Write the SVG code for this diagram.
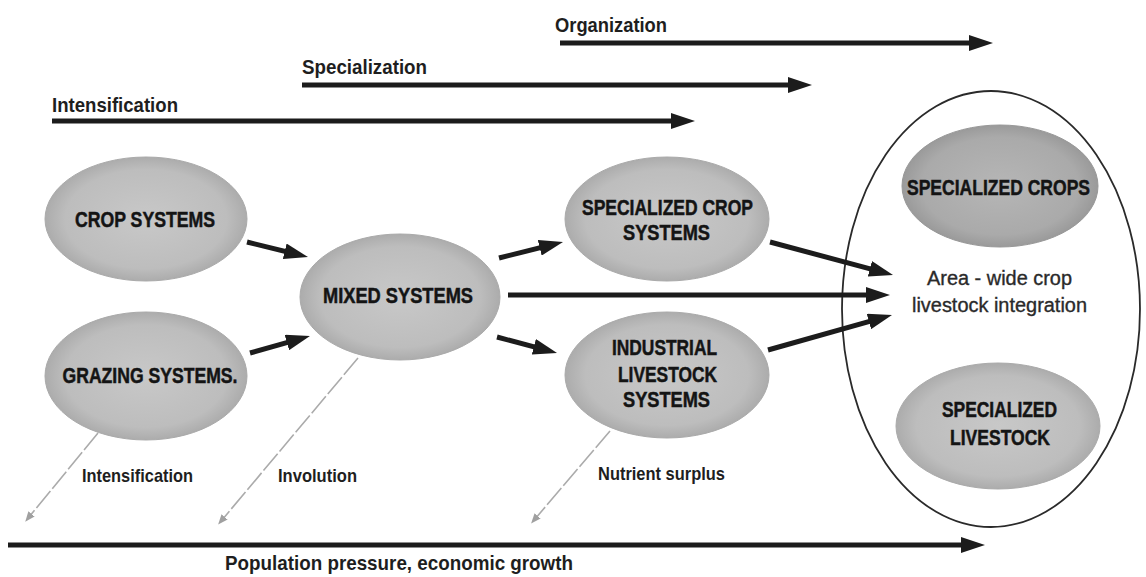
<svg xmlns="http://www.w3.org/2000/svg" width="1146" height="577" viewBox="0 0 1146 577">
  <style>
    .lbl { font-family: "Liberation Sans", Arial, sans-serif; font-weight: bold; fill: #1e1e1e; }
    .node-txt { font-family: "Liberation Sans", Arial, sans-serif; font-weight: bold; font-size: 22px; fill: #141414; stroke: #141414; stroke-width: 0.5; text-anchor: middle; }
    .area-txt { font-family: "Liberation Sans", Arial, sans-serif; font-size: 20px; fill: #2a2a2a; stroke: #2a2a2a; stroke-width: 0.35; text-anchor: middle; }
    .thick { stroke: #1c1c1c; stroke-width: 5; fill: none; marker-end: url(#head); }
    .thin { stroke: #ababab; stroke-width: 1.6; fill: none; stroke-dasharray: 22 3; marker-end: url(#ghead); }
    .blob { fill: url(#gray); stroke: #aaaaaa; stroke-width: 1; }
    .blob-dark { fill: url(#grayDark); stroke: #989898; stroke-width: 1; }
  </style>
  <defs>
    <radialGradient id="gray" cx="50%" cy="50%" r="50%">
      <stop offset="0%" stop-color="#c8c8c8"/>
      <stop offset="80%" stop-color="#bdbdbd"/>
      <stop offset="100%" stop-color="#acacac"/>
    </radialGradient>
    <radialGradient id="grayDark" cx="50%" cy="50%" r="50%">
      <stop offset="0%" stop-color="#b6b6b6"/>
      <stop offset="80%" stop-color="#aaaaaa"/>
      <stop offset="100%" stop-color="#9a9a9a"/>
    </radialGradient>
    <marker id="head" markerUnits="userSpaceOnUse" markerWidth="24" markerHeight="16" viewBox="0 0 24 16" refX="10" refY="8" orient="auto">
      <path d="M0,0 L24,8 L0,16 Z" fill="#1c1c1c"/>
    </marker>
    <marker id="ghead" markerUnits="userSpaceOnUse" markerWidth="10" markerHeight="8" viewBox="0 0 10 8" refX="4" refY="4" orient="auto">
      <path d="M0,0 L10,4 L0,8 Z" fill="#a0a0a0"/>
    </marker>
  </defs>

  <rect width="1146" height="577" fill="#ffffff"/>

  <g id="area-integration">
    <ellipse cx="991" cy="309" rx="149" ry="218" fill="none" stroke="#2a2a2a" stroke-width="1.8"/>
    <text class="area-txt" x="999.5" y="285" textLength="145" lengthAdjust="spacingAndGlyphs">Area - wide crop</text>
    <text class="area-txt" x="999.5" y="312" textLength="175" lengthAdjust="spacingAndGlyphs">livestock integration</text>
  </g>

  <g id="crop-systems">
    <ellipse class="blob" cx="146" cy="219" rx="101" ry="62"/>
    <text class="node-txt" x="145" y="227" textLength="140" lengthAdjust="spacingAndGlyphs">CROP SYSTEMS</text>
  </g>
  <g id="grazing-systems">
    <ellipse class="blob" cx="146" cy="376" rx="101" ry="64"/>
    <text class="node-txt" x="150" y="383" textLength="175" lengthAdjust="spacingAndGlyphs">GRAZING SYSTEMS.</text>
  </g>
  <g id="mixed-systems">
    <ellipse class="blob" cx="400" cy="297" rx="100" ry="63"/>
    <text class="node-txt" x="398" y="303" textLength="150" lengthAdjust="spacingAndGlyphs">MIXED SYSTEMS</text>
  </g>
  <g id="specialized-crop-systems">
    <ellipse class="blob" cx="667" cy="219" rx="102" ry="62"/>
    <text class="node-txt" x="667.5" y="215" textLength="171" lengthAdjust="spacingAndGlyphs">SPECIALIZED CROP</text>
    <text class="node-txt" x="666.5" y="240" textLength="87" lengthAdjust="spacingAndGlyphs">SYSTEMS</text>
  </g>
  <g id="industrial-livestock-systems">
    <ellipse class="blob" cx="667" cy="375" rx="102" ry="63"/>
    <text class="node-txt" x="664.5" y="355" textLength="105" lengthAdjust="spacingAndGlyphs">INDUSTRIAL</text>
    <text class="node-txt" x="667.5" y="382" textLength="99" lengthAdjust="spacingAndGlyphs">LIVESTOCK</text>
    <text class="node-txt" x="666.5" y="407" textLength="87" lengthAdjust="spacingAndGlyphs">SYSTEMS</text>
  </g>
  <g id="specialized-crops">
    <ellipse class="blob-dark" cx="1000" cy="186" rx="98" ry="61"/>
    <text class="node-txt" x="998.5" y="195" textLength="183" lengthAdjust="spacingAndGlyphs">SPECIALIZED CROPS</text>
  </g>
  <g id="specialized-livestock">
    <ellipse class="blob" cx="998" cy="426" rx="102" ry="63"/>
    <text class="node-txt" x="999.5" y="417" textLength="115" lengthAdjust="spacingAndGlyphs">SPECIALIZED</text>
    <text class="node-txt" x="1000" y="445" textLength="100" lengthAdjust="spacingAndGlyphs">LIVESTOCK</text>
  </g>

  <g id="trend-labels">
    <text class="lbl" font-size="21" x="555" y="32" textLength="112" lengthAdjust="spacingAndGlyphs">Organization</text>
    <text class="lbl" font-size="21" x="302" y="74" textLength="125" lengthAdjust="spacingAndGlyphs">Specialization</text>
    <text class="lbl" font-size="21" x="52" y="112" textLength="126" lengthAdjust="spacingAndGlyphs">Intensification</text>
    <text class="lbl" font-size="19" x="82" y="482" textLength="111" lengthAdjust="spacingAndGlyphs">Intensification</text>
    <text class="lbl" font-size="19" x="278" y="482" textLength="79" lengthAdjust="spacingAndGlyphs">Involution</text>
    <text class="lbl" font-size="19" x="598" y="480" textLength="127" lengthAdjust="spacingAndGlyphs">Nutrient surplus</text>
    <text class="lbl" font-size="21" x="225" y="570" textLength="348" lengthAdjust="spacingAndGlyphs">Population pressure, economic growth</text>
  </g>

  <g id="connectors">
    <line class="thick" x1="560" y1="43" x2="979" y2="43"/>
    <line class="thick" x1="302" y1="85" x2="798" y2="85"/>
    <line class="thick" x1="52" y1="121" x2="681" y2="121"/>
    <line class="thick" x1="8" y1="545" x2="971" y2="545"/>

    <line class="thick" x1="247" y1="242" x2="294.4" y2="253.7"/>
    <line class="thick" x1="250" y1="353" x2="296.5" y2="339.8"/>
    <line class="thick" x1="499" y1="258" x2="549.4" y2="245.4"/>
    <line class="thick" x1="508" y1="295" x2="876" y2="295"/>
    <line class="thick" x1="497" y1="337" x2="543.5" y2="349.4"/>
    <line class="thick" x1="770" y1="242" x2="879.5" y2="271.4"/>
    <line class="thick" x1="768" y1="350" x2="878.5" y2="318.8"/>

    <line class="thin" x1="98" y1="433" x2="29" y2="517"/>
    <line class="thin" x1="358" y1="358" x2="222" y2="520"/>
    <line class="thin" x1="610" y1="431" x2="535" y2="519"/>
  </g>
</svg>
